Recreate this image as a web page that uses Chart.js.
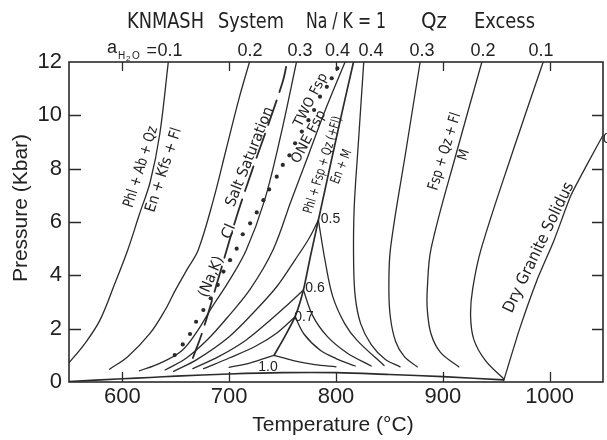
<!DOCTYPE html>
<html><head><meta charset="utf-8">
<script src="https://cdn.jsdelivr.net/npm/chart.js@4.4.1/dist/chart.umd.min.js"></script>
<style>html,body{margin:0;padding:0;background:#fff;overflow:hidden}</style>
</head><body>
<canvas id="c" width="607" height="440"></canvas>
<script>
// ---------- axes ----------
const xTicks = [600, 700, 800, 900, 1000];
const yTicks = [0, 2, 4, 6, 8, 10, 12];

// ---------- Phl + Ab + Qz = En + Kfs + Fl (dehydration), labelled by aH2O ----------
const dehy01T = [545, 550, 565, 579, 593, 605, 616, 626, 635, 643];
const dehy01P = [0.5, 0.72, 1.45, 2.32, 3.7, 4.95, 6.3, 7.5, 9.3, 12.0];
const dehy02T = [588, 605, 626, 640, 649, 661, 671, 685, 697, 709, 719];
const dehy02P = [0.48, 0.95, 1.83, 2.7, 3.4, 4.25, 4.95, 6.8, 8.7, 10.6, 12.0];
const dehy03T = [616, 635, 655, 670, 683, 700, 716, 733, 748, 763];
const dehy03P = [0.42, 0.7, 1.15, 1.9, 2.75, 3.8, 4.95, 6.8, 9.2, 12.0];
const dehy04T = [640, 660, 680, 700, 720, 741, 758, 775, 791, 808.5];
const dehy04P = [0.45, 0.9, 1.6, 2.5, 3.5, 4.95, 6.8, 8.6, 10.3, 12.0];
const dehy05T = [648, 670, 700, 725, 745, 762, 775, 783.5];
const dehy05P = [0.4, 0.85, 1.7, 2.7, 3.6, 4.6, 5.4, 6.07];
const dehy06T = [666, 690, 715, 735, 752, 769.5];
const dehy06P = [0.5, 0.95, 1.55, 2.2, 2.8, 3.45];
const dehy07T = [676, 700, 725, 745, 761.7];
const dehy07P = [0.5, 0.9, 1.35, 1.85, 2.45];
const dehy10T = [700, 720, 742];
const dehy10P = [0.55, 0.72, 1.0];

// ---------- Phl + Fsp + Qz (+Fl) = En + M ----------
const solidT = [742, 752, 761.7, 769.5, 776, 783.5, 794, 805, 816.4];
const solidP = [1.0, 1.7, 2.45, 3.45, 4.7, 6.07, 8.0, 10.0, 12.0];

// ---------- Fsp + Qz + Fl = M (melting), labelled by aH2O ----------
const melt10T = [742, 760, 780, 800];
const melt10P = [1.0, 0.8, 0.65, 0.57];
const melt07T = [761.7, 770, 785, 800, 818];
const melt07P = [2.45, 1.8, 1.2, 0.88, 0.6];
const melt06T = [769.5, 778, 792, 810, 833];
const melt06P = [3.45, 2.5, 1.7, 1.1, 0.6];
const melt05T = [783.5, 790, 797, 808, 820, 845];
const melt05P = [6.07, 4.5, 3.2, 2.2, 1.55, 0.62];
const melt04T = [826, 821, 817, 816.5, 818, 823, 833, 846, 860];
const melt04P = [12.0, 9.0, 6.5, 4.5, 3.2, 2.2, 1.4, 0.85, 0.57];
const melt03T = [878.8, 865.6, 851, 849.5, 851, 856, 864, 876];
const melt03P = [12.0, 8.7, 5.0, 3.5, 2.4, 1.5, 0.95, 0.57];
const melt02T = [936.6, 913.5, 889, 885.5, 885.5, 889, 898, 915];
const melt02P = [12.0, 8.7, 5.0, 3.5, 2.7, 1.8, 1.1, 0.57];
const melt01T = [994, 966, 936, 928, 926, 929, 940, 957];
const melt01P = [12.0, 8.7, 5.0, 3.5, 2.5, 1.6, 0.8, 0.12];

// ---------- other boundaries ----------
const dryT = [957, 972, 988, 1004, 1020, 1035, 1052];
const dryP = [0.05, 2.0, 3.8, 5.3, 7.0, 8.15, 9.4];
const lowT = [550, 600, 626, 650, 700, 750, 800, 850, 900, 957];
const lowP = [0.02, 0.12, 0.17, 0.22, 0.3, 0.35, 0.35, 0.28, 0.2, 0.08];
const saltT = [666, 675.5, 690, 707.4, 722, 737, 750.5, 754.2];
const saltP = [0.9, 1.95, 3.9, 6.26, 8.0, 9.7, 11.32, 12.0];
const solvT = [649, 656.5, 663.3, 669, 675.8, 682.7, 689.3, 694.6, 700.8, 707, 712.7, 719.6, 725.8, 732, 737.4, 744.5, 750.2, 756.4, 761.7, 768, 774.2, 779.5, 785, 791.4, 796, 801.3];
const solvP = [1.01, 1.41, 1.8, 2.26, 2.7, 3.14, 3.64, 4.14, 4.57, 5.0, 5.54, 5.95, 6.36, 6.82, 7.22, 7.7, 8.14, 8.5, 8.95, 9.39, 9.82, 10.2, 10.7, 11.07, 11.39, 11.76];

// ---------- labels ----------
const topLabels = ['0.2', '0.3', '0.4', '0.4', '0.3', '0.2', '0.1'];
const topLabelT = [719.5, 766.3, 801.4, 832.8, 880.5, 937.6, 992];
const invLabels = ['0.5', '0.6', '0.7', '1.0'];
const invLabelT = [794.8, 780.3, 770, 736.3];
const invLabelP = [6.11, 3.52, 2.45, 0.55];
const fieldLabels = ['Phl + Ab + Qz', 'En + Kfs + Fl', '(Na,K)', 'Cl', 'Salt Saturation', 'TWO Fsp', 'ONE Fsp',
  'Phl + Fsp + Qz (+Fl)', 'En + M', 'Fsp + Qz + Fl', 'M', 'Dry Granite Solidus'];
const fieldLabelT = [617.4, 638.9, 683.4, 699.8, 719.5, 776.6, 774.7, 788.1, 805.3, 902.1, 919.9, 990.1];
const fieldLabelP = [8.06, 7.95, 3.94, 5.64, 8.44, 10.57, 9.19, 8.14, 8.07, 8.64, 8.51, 5.04];
const fieldLabelAng = [-72.6, -72, -67, -67, -68.2, -63, -62, -72.7, -68, -73, -73, -64.3];

const LINE = '#2b2b2b';
const NARROW = "'Liberation Sans Narrow', 'DejaVu Sans Condensed', 'Liberation Sans', sans-serif";
const REG = "'Liberation Sans', Arial, sans-serif";

// layout for the rotated labels: [font size, fitted length in px (0 = natural)]
const fieldLabelFit = [[15, 84], [15, 88], [15, 43], [15, 15], [15, 106], [14, 58], [14, 58],
  [13.5, 101], [13.5, 36], [15, 80], [14, 0], [16, 143]];

function pts(T, P) { return T.map((t, i) => ({ x: t, y: P[i] })); }
function curve(T, P, extra) {
  return Object.assign({ data: pts(T, P), borderColor: LINE, borderWidth: 1.3, pointRadius: 0,
    tension: 0.35, fill: false, clip: 0 }, extra || {});
}

const datasets = [
  curve(dehy01T, dehy01P), curve(dehy02T, dehy02P), curve(dehy03T, dehy03P), curve(dehy04T, dehy04P),
  curve(dehy05T, dehy05P), curve(dehy06T, dehy06P), curve(dehy07T, dehy07P), curve(dehy10T, dehy10P),
  curve(solidT, solidP, { borderWidth: 1.7, tension: 0.2 }),
  curve(melt10T, melt10P), curve(melt07T, melt07P), curve(melt06T, melt06P), curve(melt05T, melt05P),
  curve(melt04T, melt04P), curve(melt03T, melt03P), curve(melt02T, melt02P), curve(melt01T, melt01P),
  curve(dryT, dryP, { tension: 0.2 }),
  curve(lowT, lowP, { borderWidth: 1.6 }),
  curve(saltT, saltP, { borderDash: [26, 9], borderWidth: 1.8 }),
  { data: pts(solvT, solvP), showLine: false, pointRadius: 2.1, pointBackgroundColor: LINE,
    pointBorderWidth: 0, clip: 0 }
];

function fitText(ctx, text, x, y, deg, size, len, family) {
  ctx.save();
  ctx.translate(x, y);
  if (deg) ctx.rotate(deg * Math.PI / 180);
  ctx.font = size + 'px ' + family;
  const w = ctx.measureText(text).width;
  if (len) ctx.scale(len / w, 1);
  ctx.fillText(text, 0, 0);
  ctx.restore();
}

const decor = {
  id: 'decor',
  afterDraw(chart) {
    const ctx = chart.ctx, a = chart.chartArea, xs = chart.scales.x, ys = chart.scales.y;
    ctx.save();
    ctx.strokeStyle = LINE; ctx.lineWidth = 1.6;
    ctx.strokeRect(a.left, a.top, a.right - a.left, a.bottom - a.top);
    ctx.lineWidth = 1.3;
    ctx.beginPath();
    xTicks.forEach(v => {
      const px = Math.round(xs.getPixelForValue(v)) + 0.5;
      ctx.moveTo(px, a.bottom); ctx.lineTo(px, a.bottom - 10);
      ctx.moveTo(px, a.top); ctx.lineTo(px, a.top + 9);
    });
    yTicks.forEach(v => {
      if (v === 0 || v === 12) return;
      const py = Math.round(ys.getPixelForValue(v)) + 0.5;
      ctx.moveTo(a.left, py); ctx.lineTo(a.left + 12, py);
      ctx.moveTo(a.right, py); ctx.lineTo(a.right - 11, py);
    });
    ctx.stroke();

    ctx.fillStyle = '#222';
    // title
    ctx.textAlign = 'left'; ctx.textBaseline = 'alphabetic';
    const tParts = ['KNMASH', 'System', 'Na / K = 1', 'Qz', 'Excess'];
    const tX = [127, 218, 306, 421, 474];
    const tLen = [77, 66, 80, 0, 61];
    tParts.forEach((s, i) => fitText(ctx, s, tX[i], 28, 0, 22, tLen[i], NARROW));
    // axis titles
    ctx.font = '21px ' + REG; ctx.textAlign = 'center'; ctx.textBaseline = 'middle';
    ctx.fillText('Temperature (°C)', 333, 425);
    ctx.save(); ctx.translate(21, 208); ctx.rotate(-Math.PI / 2);
    ctx.fillText('Pressure (Kbar)', 0, 0); ctx.restore();
    // top aH2O labels
    ctx.font = '18px ' + REG; ctx.textBaseline = 'alphabetic'; ctx.textAlign = 'center';
    topLabels.forEach((s, i) => ctx.fillText(s, xs.getPixelForValue(topLabelT[i]), 56));
    const x01 = xs.getPixelForValue(644.6);
    ctx.fillText('0.1', x01, 56);
    ctx.textAlign = 'right'; ctx.fillText('=', x01 - 13, 56);
    ctx.textAlign = 'left';
    ctx.font = '18px ' + REG; ctx.fillText('a', 107, 53);
    ctx.font = '10px ' + REG; ctx.fillText('H', 118, 59); ctx.fillText('O', 132, 59);
    ctx.font = '8px ' + REG; ctx.fillText('2', 126, 61);
    // invariant point labels
    ctx.font = '14px ' + REG; ctx.textAlign = 'center'; ctx.textBaseline = 'middle';
    invLabels.forEach((s, i) => ctx.fillText(s, xs.getPixelForValue(invLabelT[i]), ys.getPixelForValue(invLabelP[i])));
    // right edge cut label
    ctx.textAlign = 'left'; ctx.fillText('0', 603, 139);
    // rotated field labels
    ctx.textAlign = 'center'; ctx.textBaseline = 'middle';
    fieldLabels.forEach((s, i) => {
      fitText(ctx, s, xs.getPixelForValue(fieldLabelT[i]), ys.getPixelForValue(fieldLabelP[i]),
        fieldLabelAng[i], fieldLabelFit[i][0], fieldLabelFit[i][1], NARROW);
    });
    ctx.restore();
  }
};

new Chart(document.getElementById('c'), {
  type: 'line',
  data: { datasets },
  options: {
    responsive: false, animation: false, devicePixelRatio: 1,
    layout: { padding: { left: 0, right: 4, top: 62, bottom: 0 } },
    plugins: { legend: { display: false }, tooltip: { enabled: false }, title: { display: false } },
    elements: { line: { borderCapStyle: 'round' } },
    scales: {
      x: {
        type: 'linear', min: 550, max: 1050,
        afterBuildTicks: s => { s.ticks = xTicks.map(v => ({ value: v })); },
        afterFit: s => { s.height = 58; },
        grid: { display: false, drawTicks: false }, border: { display: false },
        ticks: { font: { size: 22, family: REG }, color: '#222', padding: 2, maxRotation: 0,
          callback: v => String(v) }
      },
      y: {
        type: 'linear', min: 0, max: 12,
        afterBuildTicks: s => { s.ticks = yTicks.map(v => ({ value: v })); },
        afterFit: s => { s.width = 69; },
        grid: { display: false, drawTicks: false }, border: { display: false },
        ticks: { font: { size: 22, family: REG }, color: '#222', padding: 7, callback: v => String(v) }
      }
    }
  },
  plugins: [decor]
});
</script>
</body></html>
